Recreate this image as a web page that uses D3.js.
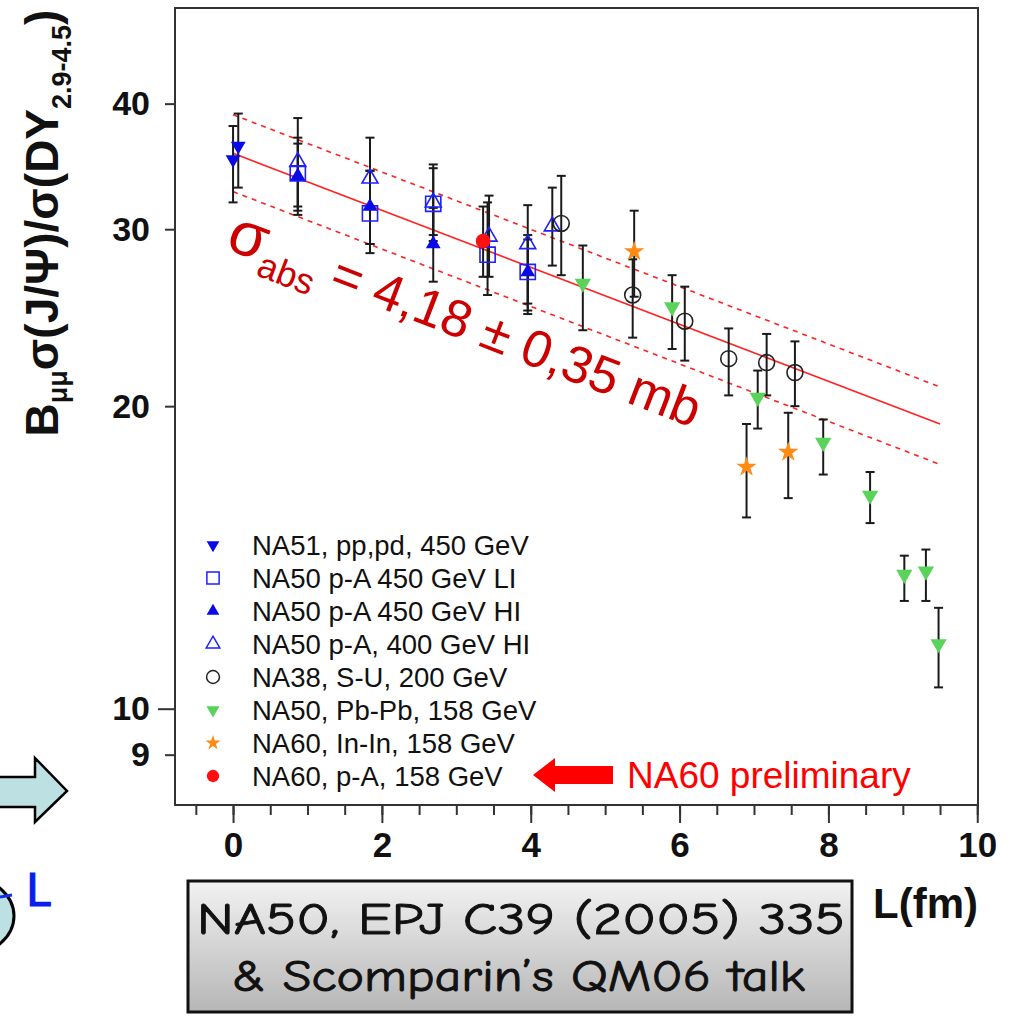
<!DOCTYPE html>
<html>
<head>
<meta charset="utf-8">
<script src="https://cdn.jsdelivr.net/npm/d3@7"></script>
<style>
body { margin: 0; background: #fff; }
svg { display: block; }
</style>
</head>
<body>
<svg id="chart" width="1010" height="1016"></svg>
<script>
// ---- values ----
var xTicks = [0, 2, 4, 6, 8, 10];
var yTicks = [9, 10, 20, 30, 40];

// absorption fit (central + band), L in fm
var fitL = [0, 9.5];
var fitMid = [35.7, 19.2];
var fitUp = [39.0, 20.9];
var fitLow = [32.7, 17.5];

// NA51, pp,pd, 450 GeV
var na51L = [0.0, 0.07];
var na51V = [35.2, 36.3];
var na51Lo = [31.9, 33.0];
var na51Hi = [38.0, 39.1];

// NA50 p-A 450 GeV LI
var na50LIL = [0.87, 1.84, 2.69, 3.42, 3.96];
var na50LIV = [34.1, 31.1, 31.8, 28.3, 27.2];
var na50LILo = [31.6, 29.0, 29.2, 25.8, 24.9];
var na50LIHi = [37.0, 34.3, 34.8, 31.9, 29.6];

// NA50 p-A 450 GeV HI
var na50HIL = [0.87, 1.84, 2.69, 3.96];
var na50HIV = [33.9, 31.6, 29.0, 27.2];
var na50HILo = [31.3, 29.0, 26.6, 25.3];
var na50HIHi = [36.5, 34.3, 31.5, 29.3];

// NA50 p-A, 400 GeV HI
var na50400L = [0.87, 1.84, 2.69, 3.44, 3.96, 4.29];
var na50400V = [35.0, 33.7, 31.9, 29.5, 29.0, 30.2];
var na50400Lo = [31.0, 28.4, 29.6, 26.9, 24.7, 27.6];
var na50400Hi = [38.7, 37.0, 34.5, 32.4, 31.7, 33.0];

// NA38, S-U, 200 GeV
var na38L = [4.41, 5.37, 6.07, 6.66, 7.17, 7.55];
var na38V = [30.4, 25.8, 24.3, 22.3, 22.1, 21.6];
var na38Lo = [27.0, 23.4, 22.2, 20.5, 20.5, 20.0];
var na38Hi = [33.9, 28.0, 26.3, 23.9, 23.6, 23.2];

// NA50, Pb-Pb, 158 GeV
var pbpbL = [4.70, 5.90, 7.05, 7.93, 8.56, 9.02, 9.31, 9.48];
var pbpbV = [26.5, 25.1, 20.4, 18.4, 16.3, 13.6, 13.7, 11.6];
var pbpbLo = [23.8, 22.8, 19.0, 17.1, 15.3, 12.8, 12.8, 10.5];
var pbpbHi = [28.9, 27.0, 21.7, 19.4, 17.2, 14.2, 14.4, 12.6];

// NA60, In-In, 158 GeV
var ininL = [5.39, 6.90, 7.46];
var ininV = [28.5, 17.4, 18.0];
var ininLo = [25.7, 15.5, 16.2];
var ininHi = [31.3, 19.2, 19.7];

// NA60, p-A, 158 GeV
var na60pAL = [3.36];
var na60pAV = [29.2];
var na60pALo = [26.9];
var na60pAHi = [31.6];

var seriesNames = [
    'NA51, pp,pd, 450 GeV',
    'NA50 p-A 450 GeV LI',
    'NA50 p-A 450 GeV HI',
    'NA50 p-A, 400 GeV HI',
    'NA38, S-U, 200 GeV',
    'NA50, Pb-Pb, 158 GeV',
    'NA60, In-In, 158 GeV',
    'NA60, p-A, 158 GeV'
];

// marker looks, one per series (same order as names)
var markerStyles = [
    {type: d3.symbolTriangle, rot: 180, size: 95, fill: '#0a0ae6', stroke: 'none'},
    {type: d3.symbolSquare, rot: 0, size: 230, fill: 'none', stroke: '#1f1fff'},
    {type: d3.symbolTriangle, rot: 0, size: 95, fill: '#0a0ae6', stroke: 'none'},
    {type: d3.symbolTriangle, rot: 0, size: 110, fill: 'none', stroke: '#1f1fff'},
    {type: d3.symbolCircle, rot: 0, size: 200, fill: 'none', stroke: '#222'},
    {type: d3.symbolTriangle, rot: 180, size: 115, fill: '#5ad35a', stroke: 'none'},
    {type: d3.symbolStar, rot: 0, size: 130, fill: '#ff8a14', stroke: 'none'},
    {type: d3.symbolCircle, rot: 0, size: 170, fill: '#ff1010', stroke: 'none'}
];
var legendSizes = [70, 150, 70, 80, 130, 75, 70, 120];

function zipSeries(L, v, lo, hi) {
    return L.map(function(d, i) {
        return {L: d, v: v[i], lo: lo[i], hi: hi[i]};
    });
}

var series = [
    zipSeries(na51L, na51V, na51Lo, na51Hi),
    zipSeries(na50LIL, na50LIV, na50LILo, na50LIHi),
    zipSeries(na50HIL, na50HIV, na50HILo, na50HIHi),
    zipSeries(na50400L, na50400V, na50400Lo, na50400Hi),
    zipSeries(na38L, na38V, na38Lo, na38Hi),
    zipSeries(pbpbL, pbpbV, pbpbLo, pbpbHi),
    zipSeries(ininL, ininV, ininLo, ininHi),
    zipSeries(na60pAL, na60pAV, na60pALo, na60pAHi)
];

var svg = d3.select('#chart');
var defs = svg.append('defs');

// plot frame
var frame = {l: 175, t: 8, r: 978, b: 805};

var xScale = d3.scaleLinear()
    .domain([-0.78, 10.01])
    .range([frame.l, frame.r]);
var yScale = d3.scaleLog()
    .domain([8.02, 49.8])
    .range([frame.b, frame.t]);

var axisFont = '"Liberation Sans", Arial, Helvetica, sans-serif';

// ---- slide decorations on the left ----
svg.append('path')
    .attr('d', 'M-5,777 L35,777 L35,758 L67,791 L35,822 L35,807 L-5,807 Z')
    .attr('fill', '#bde0e2')
    .attr('stroke', '#000')
    .attr('stroke-width', 2.5)
    .attr('stroke-linejoin', 'miter');

svg.append('ellipse')
    .attr('cx', -52).attr('cy', 916)
    .attr('rx', 66).attr('ry', 45)
    .attr('fill', '#bde0e2')
    .attr('stroke', '#000')
    .attr('stroke-width', 3);
svg.append('line')
    .attr('x1', 0).attr('y1', 897).attr('x2', 12).attr('y2', 895)
    .attr('stroke', '#1030f0').attr('stroke-width', 3);
svg.append('text')
    .attr('x', 26).attr('y', 906)
    .attr('font-family', '"Comic Sans MS", "DejaVu Sans", sans-serif')
    .attr('font-size', 44)
    .attr('fill', '#0a1ef0')
    .attr('stroke', '#0a1ef0')
    .attr('stroke-width', 1.2)
    .text('L');

// ---- frame ----
svg.append('rect')
    .attr('x', frame.l).attr('y', frame.t)
    .attr('width', frame.r - frame.l).attr('height', frame.b - frame.t)
    .attr('fill', 'none')
    .attr('stroke', '#333')
    .attr('stroke-width', 2);

// x axis: minor ticks then labelled ticks
var xMinorG = svg.append('g')
    .attr('transform', 'translate(0,' + frame.b + ')')
    .call(d3.axisBottom(xScale)
        .tickValues(d3.range(-0.5, 10.01, 0.5))
        .tickSize(10)
        .tickFormat(''));
var xAxisG = svg.append('g')
    .attr('transform', 'translate(0,' + frame.b + ')')
    .call(d3.axisBottom(xScale)
        .tickValues(xTicks)
        .tickSize(18)
        .tickPadding(9)
        .tickFormat(d3.format('d')));
[xMinorG, xAxisG].forEach(function(g) {
    g.select('.domain').remove();
    g.selectAll('line').attr('stroke', '#333').attr('stroke-width', 2);
});
xAxisG.selectAll('text')
    .attr('font-family', axisFont)
    .attr('font-weight', 'bold')
    .attr('font-size', 35)
    .attr('fill', '#111');

// y axis (log)
var yAxisG = svg.append('g')
    .attr('transform', 'translate(' + frame.l + ',0)')
    .call(d3.axisLeft(yScale)
        .tickValues(yTicks)
        .tickSize(10)
        .tickPadding(15)
        .tickFormat(d3.format('d')));
yAxisG.select('.domain').remove();
yAxisG.selectAll('line').attr('stroke', '#333').attr('stroke-width', 2);
yAxisG.selectAll('.tick').filter(function(d) { return d === 10; })
    .select('line').attr('x2', -17);
yAxisG.selectAll('text')
    .attr('font-family', axisFont)
    .attr('font-weight', 'bold')
    .attr('font-size', 34)
    .attr('fill', '#111');

// axis titles
var yTitle = svg.append('text')
    .attr('transform', 'translate(58,223) rotate(-90)')
    .attr('text-anchor', 'middle')
    .attr('font-family', axisFont)
    .attr('font-weight', 'bold')
    .attr('font-size', 46)
    .attr('fill', '#111');
yTitle.append('tspan').text('B');
yTitle.append('tspan').attr('font-size', 27).attr('dy', 9).text('μμ');
yTitle.append('tspan').attr('dy', -9).text('σ(J/Ψ)/σ(DY');
yTitle.append('tspan').attr('font-size', 27).attr('dy', 13).text('2.9-4.5');
yTitle.append('tspan').attr('dy', -13).text(')');

svg.append('text')
    .attr('x', 978).attr('y', 918)
    .attr('text-anchor', 'end')
    .attr('font-family', axisFont)
    .attr('font-weight', 'bold')
    .attr('font-size', 42)
    .attr('fill', '#111')
    .text('L(fm)');

// ---- fit lines ----
var fitLine = d3.line()
    .x(function(d) { return xScale(d[0]); })
    .y(function(d) { return yScale(d[1]); });

[[fitUp, '5,5'], [fitLow, '5,5'], [fitMid, null]].forEach(function(f) {
    svg.append('path')
        .datum(d3.zip(fitL, f[0]))
        .attr('d', fitLine)
        .attr('fill', 'none')
        .attr('stroke', '#ff2222')
        .attr('stroke-width', 1.6)
        .attr('stroke-dasharray', f[1]);
});

// ---- error bars (all under the markers) ----
var barsG = svg.append('g').attr('stroke', '#1a1a1a').attr('stroke-width', 2);
series.forEach(function(pts) {
    var bar = barsG.selectAll(null)
        .data(pts)
        .enter()
        .append('g');
    bar.append('line')
        .attr('x1', function(d) { return xScale(d.L); })
        .attr('x2', function(d) { return xScale(d.L); })
        .attr('y1', function(d) { return yScale(d.lo); })
        .attr('y2', function(d) { return yScale(d.hi); });
    ['lo', 'hi'].forEach(function(k) {
        bar.append('line')
            .attr('x1', function(d) { return xScale(d.L) - 4.5; })
            .attr('x2', function(d) { return xScale(d.L) + 4.5; })
            .attr('y1', function(d) { return yScale(d[k]); })
            .attr('y2', function(d) { return yScale(d[k]); });
    });
});

// ---- markers ----
series.forEach(function(pts, i) {
    var st = markerStyles[i];
    svg.append('g')
        .selectAll('path')
        .data(pts)
        .enter()
        .append('path')
        .attr('d', d3.symbol().type(st.type).size(st.size))
        .attr('transform', function(d) {
            return 'translate(' + xScale(d.L) + ',' + yScale(d.v) + ') rotate(' + st.rot + ')';
        })
        .attr('fill', st.fill)
        .attr('stroke', st.stroke)
        .attr('stroke-width', 1.6);
});

// ---- sigma_abs annotation ----
var sigma = svg.append('text')
    .attr('transform', 'translate(224,248) rotate(21)')
    .attr('font-family', axisFont)
    .attr('fill', '#cc0000');
sigma.append('tspan').attr('font-size', 62).text('σ');
sigma.append('tspan').attr('font-size', 36).attr('dy', 14).text('abs');
sigma.append('tspan').attr('font-size', 52).attr('dy', -14).text(' = 4,18 ± 0,35 mb');

// ---- legend ----
var legendG = svg.append('g').attr('transform', 'translate(213,545)');
var legendRow = legendG.selectAll('g')
    .data(seriesNames)
    .enter()
    .append('g')
    .attr('transform', function(d, i) { return 'translate(0,' + (i * 33) + ')'; });
legendRow.append('path')
    .attr('d', function(d, i) {
        return d3.symbol().type(markerStyles[i].type).size(legendSizes[i])();
    })
    .attr('transform', function(d, i) { return 'rotate(' + markerStyles[i].rot + ')'; })
    .attr('fill', function(d, i) { return markerStyles[i].fill; })
    .attr('stroke', function(d, i) { return markerStyles[i].stroke; })
    .attr('stroke-width', 1.5);
legendRow.append('text')
    .attr('x', 39)
    .attr('dy', '0.35em')
    .attr('font-family', axisFont)
    .attr('font-size', 27.5)
    .attr('fill', '#111')
    .text(function(d) { return d; });

// NA60 preliminary arrow + note
svg.append('path')
    .attr('d', 'M533,775 L555,758 L555,766 L613,766 L613,784 L555,784 L555,792 Z')
    .attr('fill', '#ff0000');
svg.append('text')
    .attr('x', 627).attr('y', 788)
    .attr('font-family', axisFont)
    .attr('font-size', 37)
    .attr('fill', '#ff0000')
    .text('NA60 preliminary');

// ---- reference box ----
var grad = defs.append('linearGradient')
    .attr('id', 'boxGrad')
    .attr('x1', 0).attr('y1', 0).attr('x2', 0).attr('y2', 1);
grad.append('stop').attr('offset', '0%').attr('stop-color', '#f2f2f2');
grad.append('stop').attr('offset', '100%').attr('stop-color', '#b6b6b6');

svg.append('rect')
    .attr('x', 188).attr('y', 881)
    .attr('width', 664).attr('height', 131)
    .attr('fill', 'url(#boxGrad)')
    .attr('stroke', '#111')
    .attr('stroke-width', 3);

var boxFont = '"Comic Sans MS", "Comic Neue", "DejaVu Sans", sans-serif';
[['NA50, EPJ C39 (2005) 335', 197, 934, 648],
 ['& Scomparin’s QM06 talk', 232, 991, 573]].forEach(function(t) {
    svg.append('text')
        .attr('x', t[1]).attr('y', t[2])
        .attr('font-family', boxFont)
        .attr('font-size', 44)
        .attr('textLength', t[3])
        .attr('lengthAdjust', 'spacingAndGlyphs')
        .attr('fill', '#111')
        .attr('stroke', '#111')
        .attr('stroke-width', 0.9)
        .text(t[0]);
});
</script>
</body>
</html>
